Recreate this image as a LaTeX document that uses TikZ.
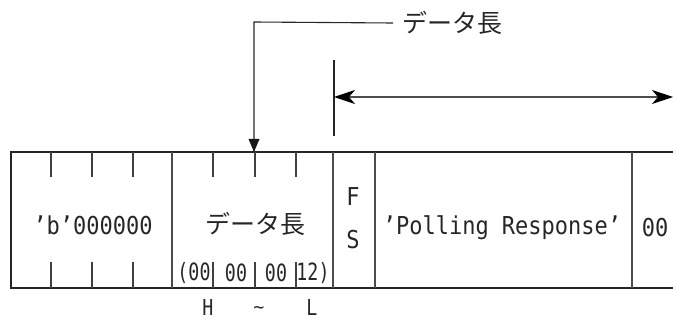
\documentclass[tikz,border=0pt]{standalone}
\usepackage{fontspec}
\setmainfont{DejaVu Sans Mono}
\newfontfamily\jp{Noto Sans CJK JP}
\usetikzlibrary{arrows.meta}
\newcommand{\tall}[2]{\scalebox{1}[#1]{#2}}
\begin{document}
\begin{tikzpicture}[x=1pt,y=-1pt,
  frame/.style={line width=2.6pt,color=black!85},
  divider/.style={line width=1.2pt,color=black!70},
  tickline/.style={line width=1.1pt,color=black!75},
  lbl/.style={inner sep=0pt,text=black!85,font=\fontsize{22}{24}\selectfont},
  small/.style={inner sep=0pt,text=black!85,font=\fontsize{18.3}{20}\selectfont},
  jlbl/.style={inner sep=0pt,text=black!85,font=\jp\fontsize{25}{28}\selectfont},
  conn/.style={line width=1.1pt,color=black!85}
]
\useasboundingbox (0,0) rectangle (673,321);
% frame
\draw[frame] (673,152) -- (11,152) -- (11,288) -- (673,288);
% dividers
\foreach \x in {172,333,375,632} \draw[divider] (\x,152) -- (\x,288);
% ticks in 'b' cell and data length cell
\foreach \x in {51,92,133,213,255,296} {
  \draw[tickline] (\x,152) -- (\x,177);
  \draw[tickline] (\x,262) -- (\x,288);
}
% texts
\node[lbl] (b) at (93,225) {\tall{1.12}{'b'000000}};
\node[jlbl] (dl) at (255,224) {データ長};
\node[small] (v1) at (194,273) {\tall{1.3}{(00}};
\node[small] (v2) at (236,273) {\tall{1.3}{00}};
\node[small] (v3) at (276,273) {\tall{1.3}{00}};
\node[small] (v4) at (313,273) {\tall{1.3}{12)}};
\node[small] (h) at (208,307.5) {\tall{1.2}{H}};
\node[small] (t) at (259,310) {\~{}};
\node[small] (l) at (312,307.5) {\tall{1.2}{L}};
\node[lbl] (f) at (353,197) {\tall{1.12}{F}};
\node[lbl] (s) at (353,240) {\tall{1.12}{S}};
\node[lbl] (pr) at (502,228) {\tall{1.12}{'Polling Response'}};
\node[lbl] (zz) at (655,228) {\tall{1.12}{00}};
% top label and arrows
\node[jlbl,anchor=west] (top) at (402,23) {データ長};
\coordinate (corner) at (254,22);
\coordinate (hit) at (254,152);
\draw[conn] (top.west) ++(-9,0) coordinate (lend) -- (corner) -- (hit);
\fill[black!90] (hit) -- ++(-5.5,-13) -- ++(11,0) -- cycle;
\coordinate (vt) at (334,60);
\coordinate (vb) at (334,136);
\draw[conn] (vt) -- (vb);
\coordinate (al) at (334,97);
\coordinate (ar) at (673,97);
\draw[conn,color=black!70,{Stealth[length=21pt,width=14pt,inset=6pt,color=black]}-{Stealth[length=21pt,width=14pt,inset=6pt,color=black]}] (al) -- (ar);
\end{tikzpicture}
\end{document}
